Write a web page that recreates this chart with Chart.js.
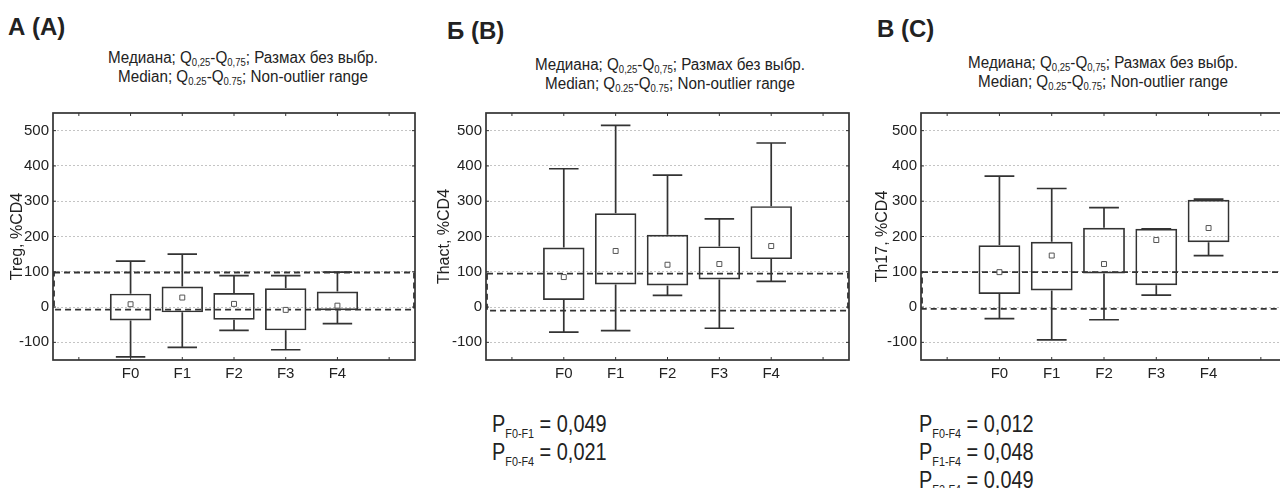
<!DOCTYPE html>
<html>
<head>
<meta charset="utf-8">
<script src="https://cdn.jsdelivr.net/npm/chart.js@4.4.1/dist/chart.umd.min.js"></script>
<style>
  body { margin: 0; width: 1280px; height: 488px; overflow: hidden; position: relative; background: #fff;
         font-family: 'Liberation Sans', Arial, sans-serif; color: #222; }
  .t { position: absolute; font-weight: bold; font-size: 24px; line-height: 28px; }
  .s { position: absolute; width: 360px; text-align: center; font-size: 16px; line-height: 19px; white-space: nowrap;
       transform: scaleX(0.95); transform-origin: 50% 0; }
  .s sub { font-size: 10px; vertical-align: -3px; line-height: 0; }
  .p { position: absolute; font-size: 24px; line-height: 28px; white-space: nowrap;
       transform: scaleX(0.83); transform-origin: 0 0; }
  .p sub { font-size: 13px; vertical-align: -6px; line-height: 0; }
  canvas { position: absolute; top: 100px; }
</style>
</head>
<body>
<div class="t" style="left:8px;top:13px">А (A)</div>
<div class="t" style="left:447px;top:17px">Б (B)</div>
<div class="t" style="left:877px;top:15px">В (C)</div>

<div class="s" style="left:63px;top:48px">Медиана; Q<sub>0,25</sub>-Q<sub>0,75</sub>; Размах без выбр.<br>Median; Q<sub>0.25</sub>-Q<sub>0.75</sub>; Non-outlier range</div>
<div class="s" style="left:490px;top:55px">Медиана; Q<sub>0,25</sub>-Q<sub>0,75</sub>; Размах без выбр.<br>Median; Q<sub>0.25</sub>-Q<sub>0.75</sub>; Non-outlier range</div>
<div class="s" style="left:923px;top:53px">Медиана; Q<sub>0,25</sub>-Q<sub>0,75</sub>; Размах без выбр.<br>Median; Q<sub>0.25</sub>-Q<sub>0.75</sub>; Non-outlier range</div>

<canvas id="chartA" width="420" height="290" style="left:0px"></canvas>
<canvas id="chartB" width="434" height="290" style="left:420px"></canvas>
<canvas id="chartC" width="440" height="290" style="left:856px"></canvas>

<div class="p" style="left:492px;top:410px">P<sub>F0-F1</sub> = 0,049<br>P<sub>F0-F4</sub> = 0,021</div>
<div class="p" style="left:919px;top:410px">P<sub>F0-F4</sub> = 0,012<br>P<sub>F1-F4</sub> = 0,048<br>P<sub>F2-F4</sub> = 0,049</div>

<script>
const categories = ['F0', 'F1', 'F2', 'F3', 'F4'];
const yTicks = [-100, 0, 100, 200, 300, 400, 500];

// Treg
const tregMin = [-141, -114, -66, -121, -47];
const tregQ1 = [-38, -15, -36, -66, -9];
const tregMedian = [8, 27, 9, -8, 4];
const tregQ3 = [38, 58, 40, 53, 44];
const tregMax = [130, 150, 89, 89, 99];
const tregRef = [98, -7];

// Thact
const thactMin = [-71, -67, 33, -60, 73];
const thactQ1 = [20, 64, 61, 78, 136];
const thactMedian = [85, 159, 120, 122, 173];
const thactQ3 = [169, 266, 205, 172, 286];
const thactMax = [392, 515, 374, 250, 465];
const thactRef = [95, -10];

// Th17
const th17Min = [-33, -93, -36, 34, 146];
const th17Q1 = [37, 47, 95, 62, 184];
const th17Median = [99, 146, 122, 190, 224];
const th17Q3 = [175, 185, 225, 222, 304];
const th17Max = [371, 336, 282, 222, 306];
const th17Ref = [99, -5];

const FONT = "'Liberation Sans', Arial, sans-serif";
const INK = '#333';

const boxParts = {
  id: 'boxParts',
  beforeDatasetsDraw(chart, args, opts) {
    const { ctx, chartArea: a, scales: { y } } = chart;
    const top = y.getPixelForValue(opts.ref[0]);
    const bottom = y.getPixelForValue(opts.ref[1]);
    ctx.save();
    ctx.beginPath();
    ctx.rect(a.left, a.top, a.width, a.height);
    ctx.clip();
    ctx.setLineDash([6, 4]);
    ctx.lineWidth = 1.8;
    ctx.strokeStyle = '#333';
    ctx.strokeRect(a.left + 1, top, a.width - 2, bottom - top);
    ctx.restore();
  },
  afterDatasetsDraw(chart, args, opts) {
    const { ctx, scales: { x, y } } = chart;
    const step = x.getPixelForValue(1) - x.getPixelForValue(0);
    const cap = step * 0.285;
    ctx.save();
    ctx.lineWidth = 1.7;
    ctx.strokeStyle = INK;
    opts.min.forEach((lo, i) => {
      const px = x.getPixelForValue(i);
      const yMin = y.getPixelForValue(lo);
      const yMax = y.getPixelForValue(opts.max[i]);
      const yQ1 = y.getPixelForValue(opts.q1[i]);
      const yQ3 = y.getPixelForValue(opts.q3[i]);
      ctx.beginPath();
      ctx.moveTo(px, yMax); ctx.lineTo(px, yQ3);
      ctx.moveTo(px, yQ1); ctx.lineTo(px, yMin);
      ctx.moveTo(px - cap, yMax); ctx.lineTo(px + cap, yMax);
      ctx.moveTo(px - cap, yMin); ctx.lineTo(px + cap, yMin);
      ctx.stroke();
    });
    ctx.restore();
  },
  afterDraw(chart) {
    const { ctx, chartArea: a, scales: { x, y } } = chart;
    ctx.save();
    ctx.lineWidth = 1.7;
    ctx.strokeStyle = INK;
    ctx.strokeRect(a.left, a.top, a.width, a.height);
    ctx.lineWidth = 1;
    ctx.beginPath();
    x.ticks.forEach(t => {
      const px = x.getPixelForValue(t.value);
      ctx.moveTo(px, a.top); ctx.lineTo(px, a.top + 3);
      ctx.moveTo(px, a.bottom); ctx.lineTo(px, a.bottom - 3);
    });
    y.ticks.forEach(t => {
      const py = y.getPixelForValue(t.value);
      ctx.moveTo(a.left, py); ctx.lineTo(a.left + 3, py);
      ctx.moveTo(a.right, py); ctx.lineTo(a.right - 3, py);
    });
    ctx.stroke();
    ctx.restore();
  }
};

function makePanel(id, yTitle, min, q1, median, q3, max, ref, layout) {
  const xTicks = [-1, ...categories.map((c, i) => i), categories.length];
  new Chart(document.getElementById(id), {
    type: 'bar',
    data: {
      datasets: [
        {
          type: 'scatter',
          label: 'Median',
          data: categories.map((c, i) => ({ x: i, y: median[i] })),
          pointStyle: 'rect',
          pointRadius: 3.5,
          borderWidth: 1,
          borderColor: '#555',
          backgroundColor: '#fff'
        },
        {
          label: 'Q0,25-Q0,75',
          data: categories.map((c, i) => ({ x: i, y: [q1[i], q3[i]] })),
          backgroundColor: 'rgba(0,0,0,0)',
          borderColor: INK,
          borderWidth: 1.7,
          borderSkipped: false,
          barPercentage: 1,
          categoryPercentage: 0.8
        }
      ]
    },
    options: {
      responsive: false,
      animation: false,
      layout: { padding: { top: 13, right: layout.padRight, bottom: 0, left: 0 } },
      plugins: {
        legend: { display: false },
        tooltip: { enabled: false },
        boxParts: { min, q1, q3, max, ref }
      },
      scales: {
        x: {
          type: 'linear',
          min: -1.5,
          max: 5.5,
          offset: false,
          afterBuildTicks: s => { s.ticks = xTicks.map(v => ({ value: v })); },
          afterFit: s => { s.height = 30; },
          grid: { display: false, offset: false },
          border: { display: false },
          ticks: {
            padding: -3,
            autoSkip: false,
            maxRotation: 0,
            color: '#222',
            font: { family: FONT, size: 15 },
            callback: v => categories[v] ?? ''
          }
        },
        y: {
          min: -150,
          max: 550,
          afterBuildTicks: s => { s.ticks = yTicks.map(v => ({ value: v })); },
          afterFit: s => { s.width = layout.yWidth; },
          grid: { color: '#c4c4c4', lineWidth: 1, drawTicks: false },
          border: { display: false, dash: [2, 2] },
          ticks: { padding: 4, color: '#222', font: { family: FONT, size: 15 } },
          title: {
            display: true,
            text: yTitle,
            color: '#222',
            font: { family: FONT, size: 16 },
            padding: { top: layout.titlePad, bottom: 0 }
          }
        }
      }
    },
    plugins: [boxParts]
  });
}

makePanel('chartA', 'Treg, %CD4', tregMin, tregQ1, tregMedian, tregQ3, tregMax, tregRef,
  { yWidth: 53, padRight: 2, titlePad: 8 });
makePanel('chartB', 'Thact, %CD4', thactMin, thactQ1, thactMedian, thactQ3, thactMax, thactRef,
  { yWidth: 66, padRight: 1.5, titlePad: 15 });
makePanel('chartC', 'Th17, %CD4', th17Min, th17Q1, th17Median, th17Q3, th17Max, th17Ref,
  { yWidth: 65, padRight: 9, titlePad: 17 });
</script>
</body>
</html>
